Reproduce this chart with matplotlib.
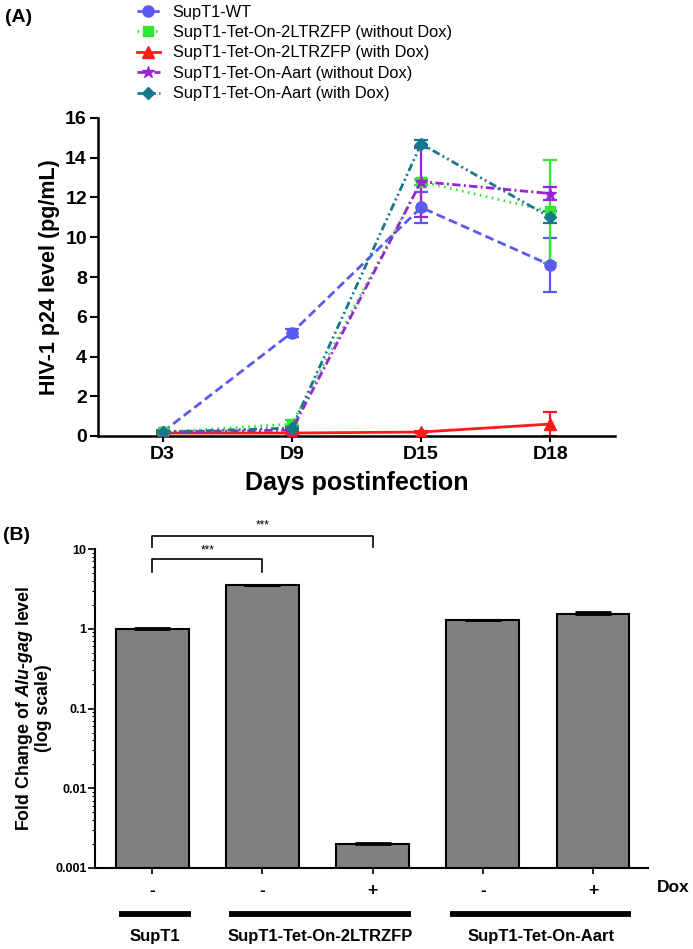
import matplotlib
matplotlib.use('Agg')
import matplotlib.pyplot as plt
import matplotlib.transforms as mtransforms
from matplotlib import ticker
import numpy as np

plt.rcParams['font.family'] = ['Liberation Sans', 'DejaVu Sans']
plt.rcParams['font.weight'] = 'bold'
plt.rcParams['mathtext.fontset'] = 'custom'
plt.rcParams['mathtext.rm'] = 'Liberation Sans:bold'
plt.rcParams['mathtext.bfit'] = 'Liberation Sans:bold:italic'
plt.rcParams['mathtext.it'] = 'Liberation Sans:bold:italic'

# -----------------------------------------------------------
# panel A data: p24 level (pg/mL)
# -----------------------------------------------------------
days = ['D3', 'D9', 'D15', 'D18']

wt = [0.2, 5.2, 11.5, 8.6]
wt_err = [0.1, 0.2, 0.8, 1.35]
zfp_nodox = [0.2, 0.6, 12.8, 11.3]
zfp_nodox_err = [0.05, 0.2, 0.15, 2.6]
zfp_dox = [0.15, 0.15, 0.2, 0.6]
zfp_dox_err = [0.05, 0.05, 0.05, 0.6]
aart_nodox = [0.2, 0.3, 12.8, 12.2]
aart_nodox_err = [0.05, 0.1, 1.8, 0.35]
aart_dox = [0.2, 0.4, 14.7, 11.0]
aart_dox_err = [0.05, 0.1, 0.2, 0.3]

series_labels = ['SupT1-WT',
                 'SupT1-Tet-On-2LTRZFP (without Dox)',
                 'SupT1-Tet-On-2LTRZFP (with Dox)',
                 'SupT1-Tet-On-Aart (without Dox)',
                 'SupT1-Tet-On-Aart (with Dox)']

# -----------------------------------------------------------
# panel B data: fold change of Alu-gag
# -----------------------------------------------------------
dox = ['-', '-', '+', '-', '+']
fold = [1.0, 3.5, 0.002, 1.27, 1.55]
fold_err = [0.02, 0.08, 0.00006, 0.03, 0.05]
groups = ['SupT1', 'SupT1-Tet-On-2LTRZFP', 'SupT1-Tet-On-Aart']
group_members = [[0], [1, 2], [3, 4]]
sig_pairs = [(0, 1, '***'), (0, 2, '***')]

W, H = 693, 949
fig = plt.figure(figsize=(W / 100, H / 100), dpi=100)

# ----------------------------------------------------------- A
axA = fig.add_axes([98 / W, 1 - 436 / H, (615 - 98) / W, (436 - 118) / H])
x = np.arange(len(days))

styles = [
    (wt, wt_err, '#5a5af0', (0, (3.2, 1.6)), 'o', 8),
    (zfp_nodox, zfp_nodox_err, '#33e633', (0, (0.6, 1.6)), 's', 7),
    (zfp_dox, zfp_dox_err, '#ff1a1a', '-', '^', 8),
    (aart_nodox, aart_nodox_err, '#9b22d8', (0, (3.0, 1.2, 0.7, 1.2)), '*', 9),
    (aart_dox, aart_dox_err, '#16788a', (0, (2.8, 1.2, 0.7, 1.2, 0.7, 1.2)), 'D', 6),
]
handles = []
for (vals, err, col, ls, mk, ms), lab in zip(styles, series_labels):
    axA.errorbar(x, vals, yerr=err, color=col, ecolor=col, elinewidth=1.6,
                 capsize=5, capthick=1.6, fmt='none', zorder=2)
    ln, = axA.plot(x, vals, color=col, linestyle=ls, linewidth=2,
                   marker=mk, markersize=ms, label=lab, zorder=3)
    handles.append(ln)

axA.set_xlim(-0.5, 3.5)
axA.set_ylim(0, 16)
axA.set_yticks(np.arange(0, 17, 2))
axA.set_xticks(x)
axA.set_xticklabels(days)
axA.spines['top'].set_visible(False)
axA.spines['right'].set_visible(False)
for s in ['left', 'bottom']:
    axA.spines[s].set_linewidth(1.8)
axA.tick_params(axis='y', length=6, width=1.5, labelsize=14, pad=2)
axA.tick_params(axis='x', length=4, width=1.5, labelsize=14, pad=3)
axA.set_ylabel('HIV-1 p24 level (pg/mL)', fontsize=15.5, fontweight='bold',
               labelpad=4)
axA.set_xlabel('Days postinfection', fontsize=18, fontweight='bold',
               labelpad=6)

fig.legend(handles=handles, labels=series_labels, loc='upper left',
           bbox_to_anchor=(135 / W, 1 - 3 / H), frameon=False,
           prop={'size': 11.8, 'weight': 'normal'}, handlelength=1.4,
           handletextpad=0.8, labelspacing=0.33, borderaxespad=0,
           borderpad=0.1)

fig.text(5 / W, 1 - 17 / H, '(A)', fontsize=14, fontweight='bold', va='center')
fig.text(3 / W, 1 - 535 / H, '(B)', fontsize=14, fontweight='bold', va='center')

# ----------------------------------------------------------- B
axB = fig.add_axes([95 / W, 1 - 868 / H, (648 - 95) / W, (868 - 549) / H])
xb = np.arange(len(fold))
axB.bar(xb, fold, width=0.66, color='#808080', edgecolor='black',
        linewidth=1.5, zorder=2)
axB.errorbar(xb, fold, yerr=[np.zeros(len(fold)), fold_err], fmt='none',
             ecolor='black', elinewidth=1.5, capsize=13, capthick=2, zorder=3)
axB.set_yscale('log')
axB.set_ylim(0.001, 10)
axB.set_xlim(-0.52, 4.5)
axB.yaxis.set_major_formatter(ticker.FuncFormatter(lambda v, _: f'{v:g}'))
axB.set_xticks(xb)
axB.set_xticklabels([])
axB.spines['top'].set_visible(False)
axB.spines['right'].set_visible(False)
for s in ['left', 'bottom']:
    axB.spines[s].set_linewidth(1.5)
axB.tick_params(axis='y', which='major', length=5, width=1.2, labelsize=9,
                pad=1)
axB.tick_params(axis='y', which='minor', length=2.5, width=0.8)
axB.tick_params(axis='x', length=4, width=1.2)
axB.set_ylabel('Fold Change of $\\mathbfit{Alu}$-$\\mathbfit{gag}$ level\n(log scale)',
               fontsize=12.8, fontweight='bold', labelpad=2, linespacing=1.05)

# significance brackets
for (a, b, txt), lvl in zip(sig_pairs, [(7.5, 5.2, 9.6), (14.6, 10.7, 19.5)]):
    top, leg, ty = lvl
    axB.plot([a, a, b, b], [leg, top, top, leg], color='black', lw=1.2,
             clip_on=False)
    axB.text((a + b) / 2, ty, txt, ha='center', va='center', fontsize=8.5,
             fontweight='normal', clip_on=False)

# dox row and group bars below axis
trans = mtransforms.blended_transform_factory(axB.transData, fig.transFigure)
for xi, d in zip(xb, dox):
    axB.text(xi, 1 - 890 / H, d, transform=trans, ha='center', va='center',
             fontsize=12.5, fontweight='bold')
axB.text(4.58, 1 - 888 / H, 'Dox', transform=trans, ha='left', va='center',
         fontsize=12.5, fontweight='bold')
for g, mem in zip(groups, group_members):
    x0, x1 = mem[0] - 0.3, mem[-1] + 0.35
    axB.plot([x0, x1], [1 - 914 / H] * 2, transform=trans, color='black',
             lw=4.2, solid_capstyle='butt', clip_on=False)
    axB.text((x0 + x1) / 2, 1 - 937 / H, g, transform=trans, ha='center',
             va='center', fontsize=12, fontweight='bold')

fig.savefig('out.png', dpi=100)
